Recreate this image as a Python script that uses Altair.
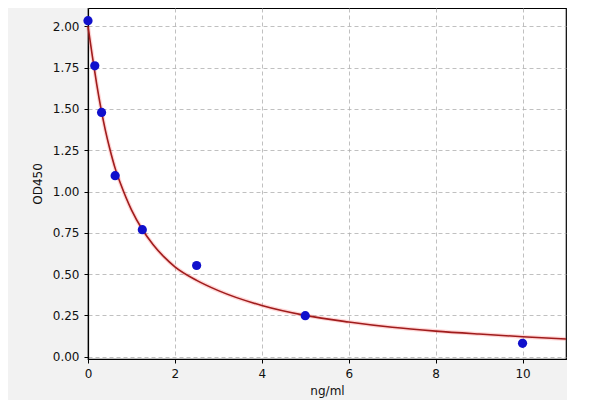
import altair as alt
import pandas as pd

# Standard points
conc = [0, 0.156, 0.3125, 0.625, 1.25, 2.5, 5, 10]
od = [2.034, 1.761, 1.479, 1.096, 0.769, 0.552, 0.248, 0.081]

# Fitted curve
curve_x = [0, 0.1, 0.2, 0.3, 0.4, 0.5, 0.625, 0.75, 1.0, 1.25, 1.5, 1.75, 2.0, 2.5, 3, 4, 5, 6, 7, 8, 9, 10, 11]
curve_y = [2.00, 1.82, 1.65, 1.50, 1.37, 1.26, 1.14, 1.047, 0.889, 0.770, 0.678, 0.604, 0.544, 0.462, 0.40, 0.31, 0.25, 0.21, 0.178, 0.155, 0.137, 0.121, 0.107]

y_ticks = [0, 0.25, 0.5, 0.75, 1.0, 1.25, 1.5, 1.75, 2.0]
x_ticks = [0, 2, 4, 6, 8, 10]

pts = pd.DataFrame({"x": conc, "y": od})
cur = pd.DataFrame({"x": curve_x, "y": curve_y})

xs = alt.Scale(domain=[0, 11], nice=False, zero=False)
ys = alt.Scale(domain=[-0.014, 2.111], nice=False, zero=False)

xax = alt.Axis(values=x_ticks, format="d", title="ng/ml", grid=True, labelFlush=False)
yax = alt.Axis(values=y_ticks, format=".2f", title="OD450", grid=True, labelFlush=False)

halo = alt.Chart(cur).mark_line(color="#ff6060", strokeWidth=4, opacity=0.25, interpolate="monotone").encode(
    x=alt.X("x:Q", scale=xs, axis=xax), y=alt.Y("y:Q", scale=ys, axis=yax))
line = alt.Chart(cur).mark_line(color="#a01c1c", strokeWidth=1.6, interpolate="monotone").encode(
    x=alt.X("x:Q", scale=xs), y=alt.Y("y:Q", scale=ys))
dots = alt.Chart(pts).mark_circle(color="#1010cc", size=85, opacity=1, clip=False).encode(
    x=alt.X("x:Q", scale=xs), y=alt.Y("y:Q", scale=ys))

chart = alt.layer(halo, line, dots).properties(
    width=478, height=351,
    background="#f2f2f2",
    padding={"left": 80, "top": 0, "right": 1, "bottom": 41},
    autosize=alt.AutoSizeParams(type="none"),
).configure_view(
    fill="white", stroke="black", strokeWidth=1.2
).configure_axis(
    gridColor="#b0b0b0", gridDash=[4, 3], gridWidth=0.8,
    domainColor="black", domainWidth=1.2,
    tickColor="black", tickSize=4, tickWidth=1,
    labelFont="DejaVu Sans", labelFontSize=12, labelColor="#111",
    titleFont="DejaVu Sans", titleFontSize=12, titleFontWeight="normal", titleColor="#111",
).configure_axisY(titlePadding=8, labelPadding=5).configure_axisX(titlePadding=6, labelPadding=5)

chart.save("out.html", embed_options={"renderer": "svg", "actions": False})
